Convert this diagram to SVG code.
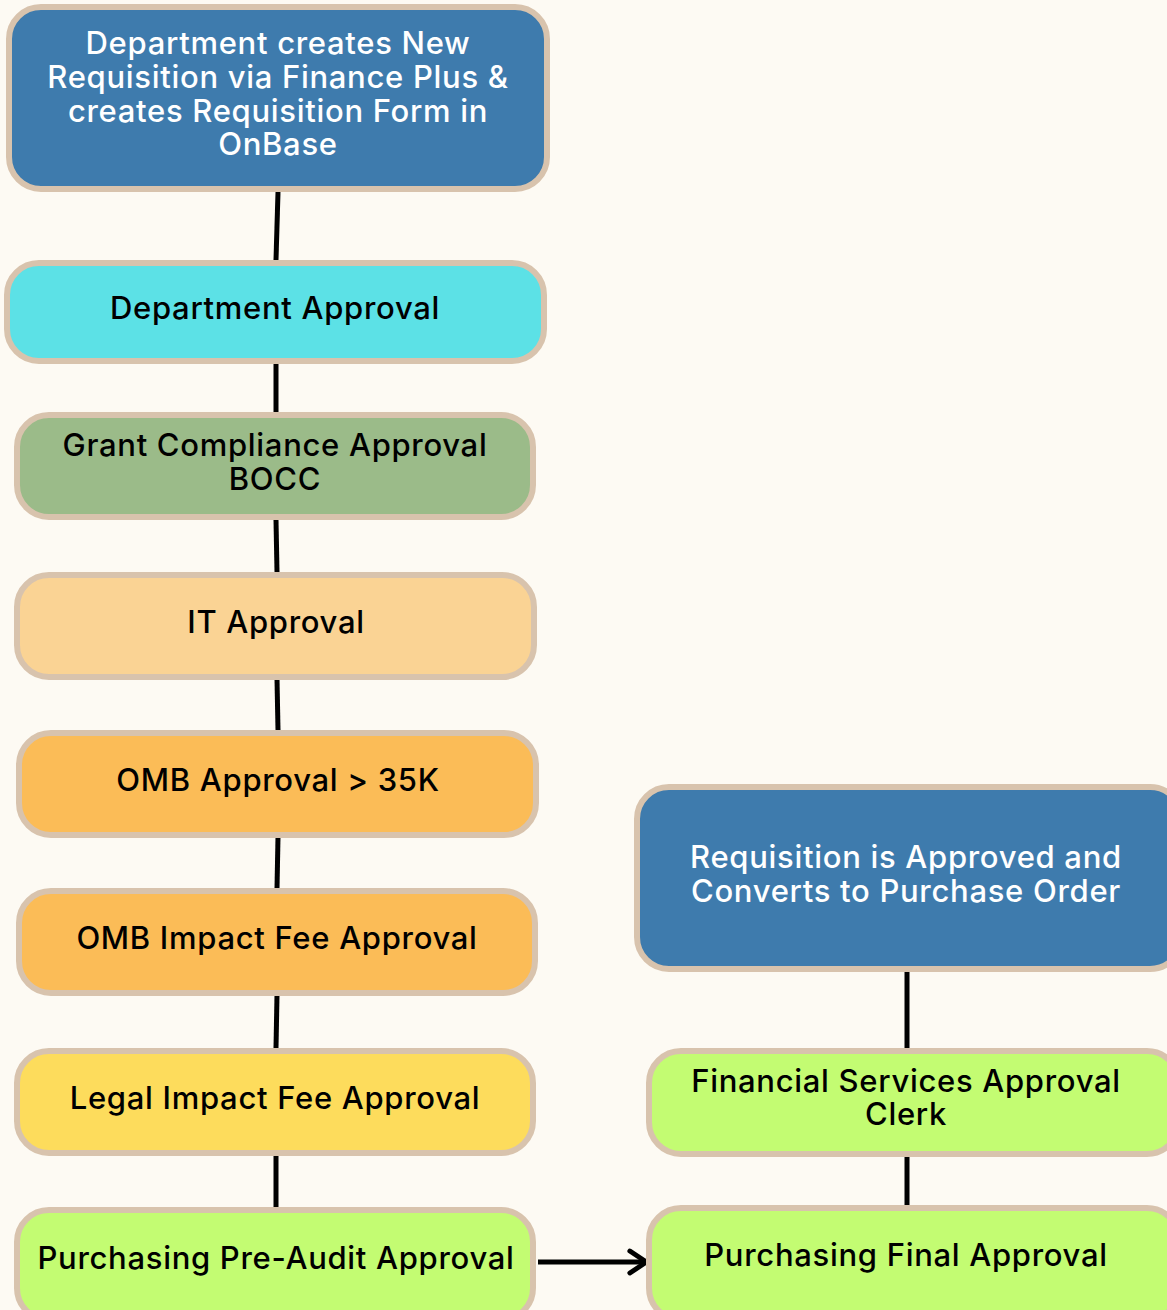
<svg xmlns="http://www.w3.org/2000/svg" width="1167" height="1310" viewBox="0 0 1167 1310">
<defs>
<style>
.bx{stroke:#d8c3ad;stroke-width:6}
.t{font-family:Inter,"Liberation Sans",Arial,sans-serif;font-weight:500;font-size:31px;text-anchor:middle;letter-spacing:0.7px}
.w{fill:#ffffff}
.k{fill:#000000}
.c{stroke:#000;stroke-width:5;fill:none}
</style>
<marker id="ah" viewBox="0 0 10 10" refX="7.5" refY="5" markerWidth="5.5" markerHeight="5.5" orient="auto" markerUnits="strokeWidth">
<path d="M2,1 L8,5 L2,9" fill="none" stroke="#000" stroke-width="1.8" stroke-linecap="round" stroke-linejoin="round"/>
</marker>
</defs>
<rect width="1167" height="1310" fill="#fdfaf3"/>
<g id="connectors">
<line class="c" x1="278" y1="192" x2="276" y2="260"/>
<line class="c" x1="276" y1="364" x2="276" y2="412"/>
<line class="c" x1="276" y1="520" x2="277" y2="572"/>
<line class="c" x1="277" y1="679" x2="278" y2="730"/>
<line class="c" x1="278" y1="837" x2="277" y2="888"/>
<line class="c" x1="277" y1="995" x2="276" y2="1048"/>
<line class="c" x1="276" y1="1155" x2="276" y2="1207"/>
<line class="c" x1="907" y1="971" x2="907" y2="1048"/>
<line class="c" x1="907" y1="1157" x2="907" y2="1205"/>
<line class="c" x1="538" y1="1262" x2="645" y2="1262" marker-end="url(#ah)"/>
</g>
<g id="n1">
<rect class="bx" x="9" y="7" width="538" height="182" rx="32" fill="#3e7bad"/>
<text class="t w" x="278" y="54">Department creates New</text>
<text class="t w" x="278" y="88">Requisition via Finance Plus &amp;</text>
<text class="t w" x="278" y="122">creates Requisition Form in</text>
<text class="t w" x="278" y="155">OnBase</text>
</g>
<g id="n2">
<rect class="bx" x="7" y="263" width="537" height="98" rx="32" fill="#5ce1e6" stroke="#d8bdb6"/>
<text class="t k" x="275" y="319">Department Approval</text>
</g>
<g id="n3">
<rect class="bx" x="17" y="415" width="516" height="102" rx="32" fill="#9bbb89"/>
<text class="t k" x="275" y="456">Grant Compliance Approval</text>
<text class="t k" x="275" y="490">BOCC</text>
</g>
<g id="n4">
<rect class="bx" x="17" y="575" width="517" height="102" rx="32" fill="#fad394"/>
<text class="t k" x="276" y="633">IT Approval</text>
</g>
<g id="n5">
<rect class="bx" x="19" y="733" width="517" height="102" rx="32" fill="#fbbc57"/>
<text class="t k" x="278" y="791">OMB Approval &gt; 35K</text>
</g>
<g id="n6">
<rect class="bx" x="19" y="891" width="516" height="102" rx="32" fill="#fbbc57"/>
<text class="t k" x="277" y="949">OMB Impact Fee Approval</text>
</g>
<g id="n7">
<rect class="bx" x="17" y="1051" width="516" height="102" rx="32" fill="#fddc5c"/>
<text class="t k" x="275" y="1109">Legal Impact Fee Approval</text>
</g>
<g id="n8">
<rect class="bx" x="17" y="1210" width="516" height="110" rx="32" fill="#c3fc72"/>
<text class="t k" x="276" y="1269">Purchasing Pre-Audit Approval</text>
</g>
<g id="n9">
<rect class="bx" x="637" y="787" width="545" height="182" rx="32" fill="#3e7bad"/>
<text class="t w" x="906" y="868">Requisition is Approved and</text>
<text class="t w" x="906" y="902">Converts to Purchase Order</text>
</g>
<g id="n10">
<rect class="bx" x="649" y="1051" width="530" height="103" rx="32" fill="#c3fc72"/>
<text class="t k" x="906" y="1092">Financial Services Approval</text>
<text class="t k" x="906" y="1125">Clerk</text>
</g>
<g id="n11">
<rect class="bx" x="649" y="1208" width="530" height="112" rx="32" fill="#c3fc72"/>
<text class="t k" x="906" y="1266">Purchasing Final Approval</text>
</g>
</svg>
